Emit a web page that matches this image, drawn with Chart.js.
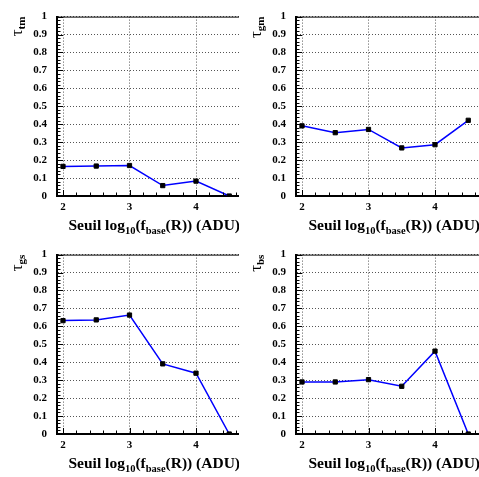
<!DOCTYPE html>
<html>
<head>
<meta charset="utf-8">
<script src="https://cdn.jsdelivr.net/npm/chart.js@4.4.1/dist/chart.umd.min.js"></script>
<style>
  html, body { margin: 0; padding: 0; background: #fff; }
  #wrap { position: relative; width: 479px; height: 477px; overflow: hidden; }
  .pad { position: absolute; overflow: hidden; }
  canvas { display: block; }
</style>
</head>
<body>
<div id="wrap">
  <div class="pad" style="left:0;top:0;width:239px;height:238px"><canvas id="cTm" width="239" height="238"></canvas></div>
  <div class="pad" style="left:239px;top:0;width:240px;height:238px"><canvas id="cGm" width="240" height="238"></canvas></div>
  <div class="pad" style="left:0;top:238px;width:239px;height:239px"><canvas id="cGs" width="239" height="239"></canvas></div>
  <div class="pad" style="left:239px;top:238px;width:240px;height:239px"><canvas id="cBs" width="240" height="239"></canvas></div>
</div>
<script>
// thresholds log10(f_base(R))
const thresholds = [2, 2.5, 3, 3.5, 4, 4.5];

const tauTm = [0.165, 0.167, 0.170, 0.058, 0.083, 0];
const tauGm = [0.391, 0.353, 0.371, 0.268, 0.286, 0.422];
const tauGs = [0.632, 0.636, 0.663, 0.391, 0.339, 0];
const tauBs = [0.290, 0.290, 0.303, 0.266, 0.462, 0];

const xTicks = [2, 3, 4];
const yTicks = [0, 0.1, 0.2, 0.3, 0.4, 0.5, 0.6, 0.7, 0.8, 0.9, 1];

const serif = "'Liberation Serif', 'Times New Roman', serif";

// ROOT-like frame: top line, inward ticks, axis titles with subscripts
const rootFrame = {
  id: 'rootFrame',
  afterDraw(chart) {
    const { ctx, chartArea: a, scales: { x, y } } = chart;
    ctx.save();
    ctx.strokeStyle = '#000';
    ctx.lineWidth = 1;
    ctx.beginPath();
    ctx.moveTo(a.left, a.top + 0.5);
    ctx.lineTo(a.right, a.top + 0.5);
    ctx.stroke();

    ctx.beginPath();
    for (let i = 0; i <= 50; i++) {
      const py = Math.round(y.getPixelForValue(i / 50)) + 0.5;
      const len = i % 5 === 0 ? 6 : 3.5;
      ctx.moveTo(a.left, py);
      ctx.lineTo(a.left + len, py);
    }
    for (let i = 0; ; i++) {
      const v = xTicks[0] + i * 0.2;
      if (v > x.max) break;
      const px = Math.round(x.getPixelForValue(v)) + 0.5;
      const len = i % 5 === 0 ? 6 : 3.5;
      ctx.moveTo(px, a.bottom);
      ctx.lineTo(px, a.bottom - len);
    }
    ctx.stroke();

    // x title, right aligned at the end of the pad
    const big = 'bold 15.5px ' + serif;
    const small = 'bold 10.5px ' + serif;
    const parts = [
      ['Seuil log', big, 0], ['10', small, 4], ['(f', big, 0], ['base', small, 4],
      ['(R)) (ADU)', big, 0]
    ];
    let w = 0;
    parts.forEach(p => { ctx.font = p[1]; w += ctx.measureText(p[0]).width; });
    let tx = chart.width + 1 - w;
    const ty = 230;
    ctx.fillStyle = '#000';
    ctx.textBaseline = 'alphabetic';
    ctx.textAlign = 'left';
    parts.forEach(p => {
      ctx.font = p[1];
      ctx.fillText(p[0], tx, ty + p[2]);
      tx += ctx.measureText(p[0]).width;
    });

    // y title tau with subscript, rotated, ending at top of axis
    ctx.translate(22, a.top);
    ctx.rotate(-Math.PI / 2);
    ctx.font = 'bold 11px ' + serif;
    const sw = ctx.measureText(chart.options.tauSub).width;
    ctx.textAlign = 'right';
    ctx.fillText(chart.options.tauSub, 0, 3);
    ctx.font = '17px ' + serif;
    ctx.fillText('τ', -sw, 0);
    ctx.restore();
  }
};

function makePanel(id, values, sub) {
  const canvas = document.getElementById(id);
  const left = 57, top = 12, bottom = 196;
  const unit = 66.5;
  const xMin = xTicks[0] - (63 - left) / unit;
  const xMax = xTicks[0] + (canvas.width - 63) / unit;
  return new Chart(canvas, {
    type: 'line',
    data: {
      datasets: [{
        data: thresholds.map((t, i) => ({ x: t, y: values[i] })),
        borderColor: '#0000ff',
        borderWidth: 1.5,
        pointStyle: 'rect',
        pointRadius: 3,
        pointBorderWidth: 1,
        pointBackgroundColor: '#000',
        pointBorderColor: '#000',
        tension: 0,
        clip: 0
      }]
    },
    options: {
      tauSub: sub,
      responsive: false,
      animation: false,
      events: [],
      layout: { autoPadding: false, padding: { top: top, left: 0, right: 0, bottom: 0 } },
      plugins: { legend: { display: false }, tooltip: { enabled: false } },
      scales: {
        x: {
          type: 'linear',
          min: xMin,
          max: xMax,
          afterBuildTicks: s => { s.ticks = xTicks.map(v => ({ value: v })); },
          afterFit: s => { s.height = canvas.height - bottom; },
          grid: { color: '#555', lineWidth: 1, drawTicks: false },
          border: { display: true, color: '#000', width: 2, dash: [1, 2] },
          ticks: {
            padding: 5,
            maxRotation: 0,
            color: '#000',
            font: { family: serif, weight: 'bold', size: 11 },
            callback: v => String(v)
          }
        },
        y: {
          min: 0,
          max: 1,
          afterBuildTicks: s => { s.ticks = yTicks.map(v => ({ value: v })); },
          afterFit: s => { s.width = left; },
          grid: { color: '#555', lineWidth: 1, drawTicks: false },
          border: { display: true, color: '#000', width: 2, dash: [1, 2] },
          ticks: {
            padding: 10,
            color: '#000',
            font: { family: serif, weight: 'bold', size: 11 },
            callback: v => String(v)
          }
        }
      }
    },
    plugins: [rootFrame]
  });
}

makePanel('cTm', tauTm, 'tm');
makePanel('cGm', tauGm, 'gm');
makePanel('cGs', tauGs, 'gs');
makePanel('cBs', tauBs, 'bs');
</script>
</body>
</html>
